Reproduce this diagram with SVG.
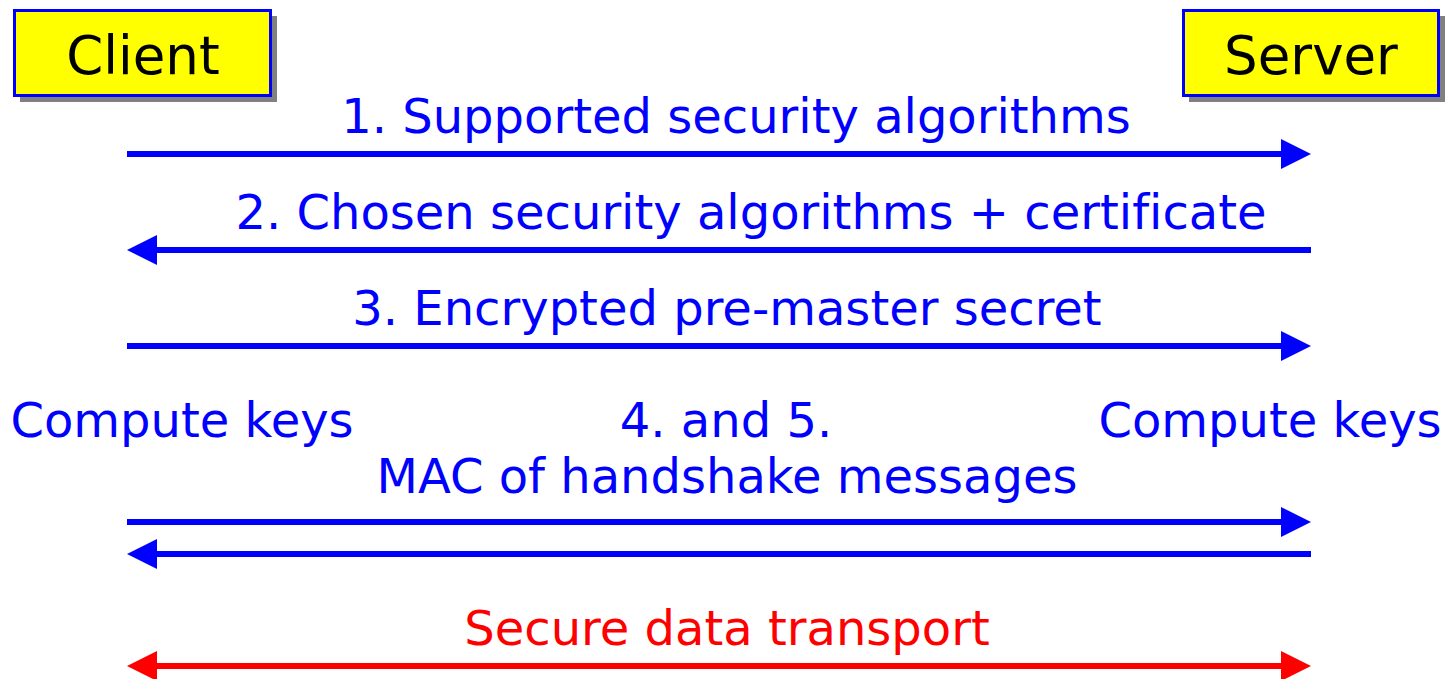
<svg xmlns="http://www.w3.org/2000/svg" width="1449" height="679" viewBox="0 0 1449 679">
<style>
.box{fill:#ffff00;stroke:#0000ff;stroke-width:3}
.sh{fill:#808080}
.t{font-family:"DejaVu Sans",Verdana,sans-serif;text-anchor:middle;font-variant-ligatures:none}
.nt{font-size:53px;fill:#000}
.lb{font-size:48px;fill:#0000ff}
.rd{fill:#ff0000}
.bl{stroke:#0000ff;stroke-width:6;fill:none}
.rl{stroke:#ff0000;stroke-width:6;fill:none}
</style>
<defs>
<marker id="ab" viewBox="0 0 30 30" refX="0" refY="15" markerWidth="30" markerHeight="30" markerUnits="userSpaceOnUse" orient="auto-start-reverse"><path d="M0,0 L30,15 L0,30 Z" fill="#0000ff"/></marker>
<marker id="ar" viewBox="0 0 30 30" refX="0" refY="15" markerWidth="30" markerHeight="30" markerUnits="userSpaceOnUse" orient="auto-start-reverse"><path d="M0,0 L30,15 L0,30 Z" fill="#ff0000"/></marker>
</defs>
<g id="client">
<rect class="sh" x="20" y="16" width="257" height="86"/>
<rect class="box" x="14.5" y="10.5" width="256" height="85"/>
<text class="t nt" x="143" y="74">Client</text>
</g>
<g id="server">
<rect class="sh" x="1189" y="16" width="256" height="86"/>
<rect class="box" x="1183.5" y="10.5" width="255" height="85"/>
<text class="t nt" x="1311" y="74">Server</text>
</g>
<g id="labels">
<text class="t lb" x="736" y="133">1. Supported security algorithms</text>
<text class="t lb" x="751" y="229">2. Chosen security algorithms + certificate</text>
<text class="t lb" x="727" y="325">3. Encrypted pre-master secret</text>
<text class="t lb" x="182" y="437">Compute keys</text>
<text class="t lb" x="726" y="437">4. and 5.</text>
<text class="t lb" x="1270" y="437">Compute keys</text>
<text class="t lb" x="727" y="493">MAC of handshake messages</text>
<text class="t lb rd" x="727" y="645">Secure data transport</text>
</g>
<g id="connectors">
<line class="bl" x1="127" y1="154" x2="1281" y2="154" marker-end="url(#ab)"/>
<line class="bl" x1="1311" y1="250" x2="157" y2="250" marker-end="url(#ab)"/>
<line class="bl" x1="127" y1="346" x2="1281" y2="346" marker-end="url(#ab)"/>
<line class="bl" x1="127" y1="522" x2="1281" y2="522" marker-end="url(#ab)"/>
<line class="bl" x1="1311" y1="554" x2="157" y2="554" marker-end="url(#ab)"/>
<line class="rl" x1="157" y1="666" x2="1281" y2="666" marker-start="url(#ar)" marker-end="url(#ar)"/>
</g>
</svg>
